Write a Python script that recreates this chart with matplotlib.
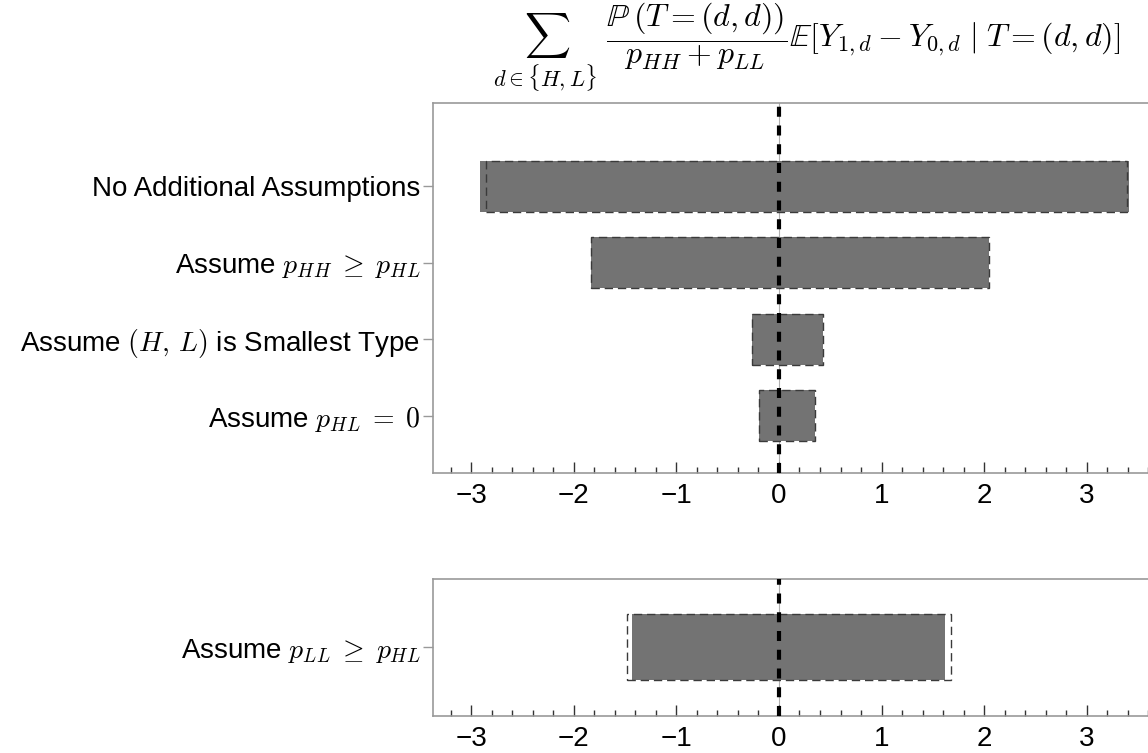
import matplotlib.pyplot as plt
from matplotlib.ticker import MultipleLocator

plt.rcParams['font.family'] = ['Liberation Sans', 'DejaVu Sans']
plt.rcParams['mathtext.fontset'] = 'cm'

# bounds for the four scenarios in the upper panel (bottom to top)
labels_top = [r'Assume $p_{HL} \;=\; 0$',
              r'Assume $(H,\,L)$ is Smallest Type',
              r'Assume $p_{HH} \;\geq\; p_{HL}$',
              'No Additional Assumptions']
fill_lo = [-0.19, -0.26, -1.83, -2.91]
fill_hi = [0.35, 0.43, 2.05, 3.41]
dash_lo = [-0.19, -0.26, -1.83, -2.86]
dash_hi = [0.35, 0.43, 2.05, 3.39]

# bounds for the separate scenario in the lower panel
labels_bot = [r'Assume $p_{LL} \;\geq\; p_{HL}$']
fill_lo_bot = [-1.43]
fill_hi_bot = [1.62]
dash_lo_bot = [-1.48]
dash_hi_bot = [1.68]

title = (r'$\sum_{d\in\{H,L\}}\ \dfrac{\mathbb{P}\,(T=(d,d))}{p_{HH}+p_{LL}}'
         r'\mathbb{E}[Y_{1,d}-Y_{0,d}\;|\;T=(d,d)]$')

fig = plt.figure(figsize=(11.48, 7.53), dpi=100)
ax1 = fig.add_axes([0.377, 0.3715, 0.625, 0.4921])
ax2 = fig.add_axes([0.377, 0.0491, 0.625, 0.1824])


def draw_panel(ax, labels, flo, fhi, dlo, dhi, ylim):
    pos = list(range(1, len(labels) + 1))
    h = 0.667
    ax.barh(pos, [b - a for a, b in zip(flo, fhi)], left=flo, height=h,
            color='#737373', edgecolor='none', zorder=2)
    ax.barh(pos, [b - a for a, b in zip(dlo, dhi)], left=dlo, height=h,
            fill=False, edgecolor='#3a3a3a', linewidth=1.0,
            linestyle=(0, (6, 3.5)), zorder=3)
    ax.axvline(0, color='#b0b0b0', linewidth=0.8, zorder=1)
    ax.axvline(0, color='black', linewidth=3, linestyle=(0, (2.4, 2.1)), zorder=4)
    ax.set_xlim(-3.375, 3.62)
    ax.set_ylim(*ylim)
    ax.set_yticks(pos)
    ax.set_yticklabels(labels, fontsize=20)
    ax.xaxis.set_major_locator(MultipleLocator(1))
    ax.xaxis.set_minor_locator(MultipleLocator(0.2))
    ax.tick_params(axis='x', which='major', direction='in', length=8, width=1,
                   color='#333333', labelsize=20, pad=7)
    ax.tick_params(axis='x', which='minor', direction='in', length=4, width=1,
                   color='#333333')
    ax.tick_params(axis='y', direction='out', length=7, width=1,
                   color='#999999', pad=2)
    for s in ['left', 'top', 'bottom']:
        ax.spines[s].set_color('#999999')
        ax.spines[s].set_linewidth(1.2)
    ax.spines['right'].set_visible(False)


draw_panel(ax1, labels_top, fill_lo, fill_hi, dash_lo, dash_hi, (0.251, 5.095))
draw_panel(ax2, labels_bot, fill_lo_bot, fill_hi_bot, dash_lo_bot, dash_hi_bot,
           (0.303, 1.69))

fig.text(0.703, 0.999, title, ha='center', va='top', fontsize=23)

fig.savefig('out.png', dpi=100)
